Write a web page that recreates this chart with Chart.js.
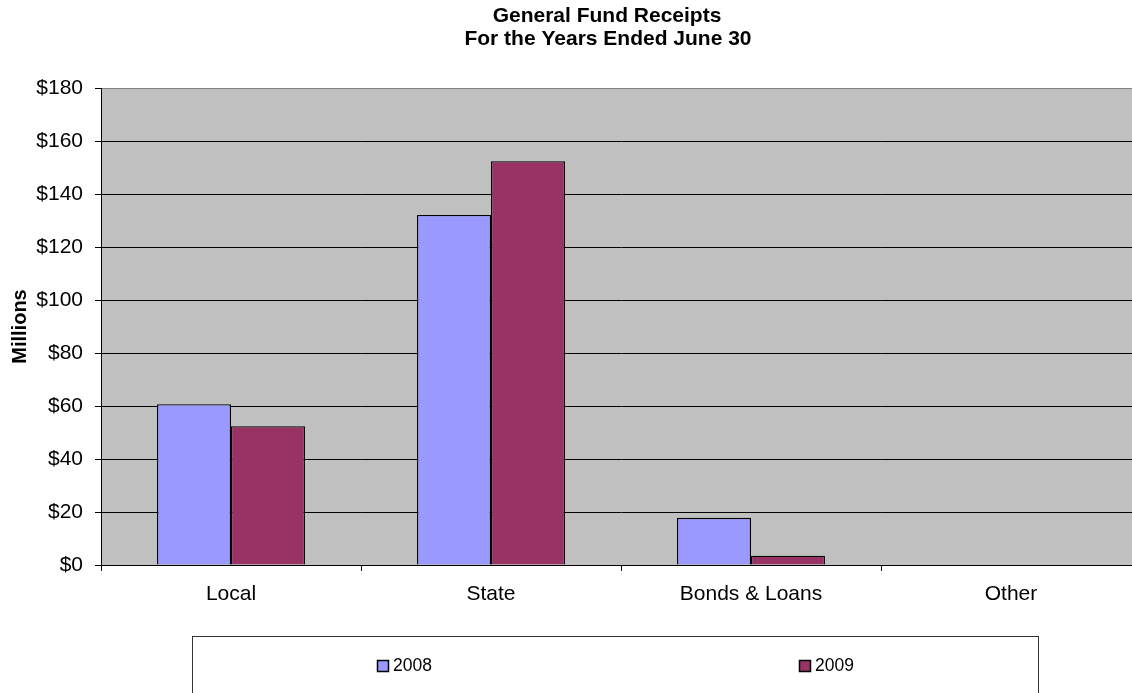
<!DOCTYPE html>
<html>
<head>
<meta charset="utf-8">
<script src="https://cdn.jsdelivr.net/npm/chart.js@4/dist/chart.umd.min.js"></script>
<style>
html,body{margin:0;padding:0;background:#fff;overflow:hidden;width:1132px;height:693px;}
#wrap{position:absolute;left:0;top:0;width:1160px;height:693px;}
</style>
</head>
<body>
<div id="wrap"><canvas id="c" width="1160" height="693"></canvas></div>
<script>
const categories = ["Local", "State", "Bonds & Loans", "Other"];
const values2008 = [60.7, 132.1, 17.8, 0];
const values2009 = [52.4, 152.4, 3.5, 0];
const seriesLabels = ["2008", "2009"];
const titleLines = ["General Fund Receipts", "For the Years Ended June 30"];
const yTicks = [0, 20, 40, 60, 80, 100, 120, 140, 160, 180];

const FONT = "'Liberation Sans', Arial, sans-serif";

const bgPlugin = {
  id: 'bg',
  beforeDraw(chart) {
    const {ctx, chartArea: a} = chart;
    ctx.save();
    ctx.fillStyle = '#C0C0C0';
    ctx.fillRect(a.left, a.top, a.right - a.left, a.bottom - a.top);
    ctx.restore();
  }
};

const titlePlugin = {
  id: 'mytitle',
  afterDraw(chart) {
    const ctx = chart.ctx;
    ctx.save();
    ctx.fillStyle = '#000';
    ctx.font = "bold 21px " + FONT;
    ctx.textAlign = 'center';
    ctx.textBaseline = 'middle';
    ctx.fillText(titleLines[0], 607, 16);
    ctx.fillText(titleLines[1], 608, 39);
    ctx.restore();
  }
};

const legendPlugin = {
  id: 'mylegend',
  afterDraw(chart) {
    const ctx = chart.ctx;
    ctx.save();
    ctx.strokeStyle = '#333';
    ctx.lineWidth = 1;
    ctx.strokeRect(192.5, 636.5, 846, 120);
    const xs = [377, 799];
    chart.data.datasets.forEach((ds, i) => {
      const x = xs[i];
      ctx.fillStyle = ds.backgroundColor;
      ctx.fillRect(x + 0.5, 660.5, 11, 11);
      ctx.strokeStyle = '#000';
      ctx.lineWidth = 1.5;
      ctx.strokeRect(x + 0.5, 660.5, 11, 11);
      ctx.fillStyle = '#000';
      ctx.font = "17.5px " + FONT;
      ctx.textAlign = 'left';
      ctx.textBaseline = 'middle';
      ctx.fillText(ds.label, x + 16, 666.5);
    });
    ctx.restore();
  }
};

new Chart(document.getElementById('c'), {
  type: 'bar',
  data: {
    labels: categories,
    datasets: [
      {label: seriesLabels[0], data: values2008, backgroundColor: '#9999FF', borderColor: '#000', borderWidth: 1.3},
      {label: seriesLabels[1], data: values2009, backgroundColor: '#993366', borderColor: '#000', borderWidth: 1.3}
    ]
  },
  options: {
    responsive: false,
    animation: false,
    events: [],
    layout: {padding: {left: 0, top: 88, right: 19, bottom: 88}},
    datasets: {bar: {categoryPercentage: 0.569, barPercentage: 1}},
    plugins: {legend: {display: false}, title: {display: false}, tooltip: {enabled: false}},
    scales: {
      x: {
        offset: true,
        grid: {offset: true, drawOnChartArea: false, color: '#000', tickLength: 6, lineWidth: 1},
        border: {color: '#000', width: 1},
        ticks: {color: '#000', font: {family: FONT, size: 21}, padding: 11, maxRotation: 0},
        afterFit(s) { s.height = 40; }
      },
      y: {
        min: 0, max: 180,
        afterBuildTicks(s) { s.ticks = yTicks.map(v => ({value: v})); },
        grid: {
          color: (c) => (c.tick && c.tick.value === 180) ? '#808080' : '#000',
          tickColor: '#000',
          tickLength: 6, lineWidth: 1
        },
        border: {color: '#000', width: 1},
        ticks: {color: '#000', font: {family: FONT, size: 21}, padding: 12, callback: v => '$' + v},
        title: {display: true, text: 'Millions', color: '#000', font: {family: FONT, size: 20, weight: 'bold'}, padding: {top: 8, bottom: 0}},
        afterFit(s) { s.width = 101; }
      }
    }
  },
  plugins: [bgPlugin, titlePlugin, legendPlugin]
});
</script>
</body>
</html>
